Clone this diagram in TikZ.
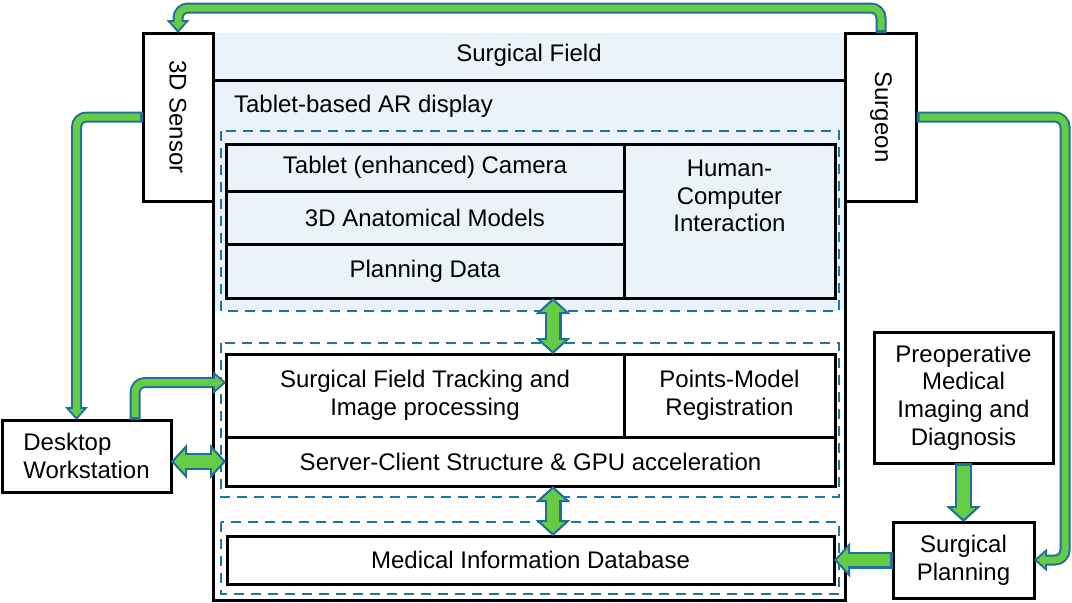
\documentclass[tikz,border=0pt]{standalone}
\usepackage{fontspec}
\setmainfont{Liberation Sans}
\usetikzlibrary{arrows.meta,positioning}
\definecolor{panelblue}{HTML}{EAF2FA}
\definecolor{dashteal}{HTML}{1B76A6}
\definecolor{pipeteal}{HTML}{1F6E9E}
\definecolor{pipegreen}{HTML}{66CC44}
\tikzset{
  boxnode/.style={
    rectangle, draw=black, line width=1.5pt, fill=white,
    align=center, inner sep=2pt, outer sep=0pt
  },
  cellnode/.style={
    rectangle, draw=black, line width=1.5pt,
    align=center, inner sep=2pt, outer sep=0pt
  },
  groupbox/.style={
    draw=dashteal, line width=1.3pt, dash pattern=on 5pt off 3.5pt
  },
  frameline/.style={draw=black, line width=1.5pt},
  tout/.tip={Triangle[length=6.5pt,width=11.5pt,line width=0pt]},
  tin/.tip={Triangle[length=4pt,width=7.1pt,line width=0pt]},
  Tout/.tip={Triangle[length=8pt,width=17.5pt,line width=0pt]},
  Tin/.tip={Triangle[length=5.4pt,width=11.8pt,line width=0pt]},
  thinpipe/.style={draw=pipeteal, line width=5.5pt, rounded corners=5pt, >=tout},
  thincore/.style={draw=pipegreen, line width=3.5pt, rounded corners=5pt, >=tin,
    shorten >=1.5pt, shorten <=1.5pt},
  thickpipe/.style={draw=pipeteal, line width=8.5pt, >=Tout},
  thickcore/.style={draw=pipegreen, line width=6.3pt, >=Tin,
    shorten >=1.5pt, shorten <=1.5pt},
}
% outlined block arrow: #1 thin/thick, #2 tips, #3 path
\newcommand{\fatlink}[3]{%
  \draw[#1pipe,#2] #3;
  \draw[#1core,#2] #3;}

\begin{document}
\begin{tikzpicture}[x=0.5pt, y=-0.5pt,
  every node/.style={font=\fontsize{12}{13.8}\selectfont}]
  \useasboundingbox (0,0) rectangle (1072,602);

  % tablet-based AR display frame
  \fill[panelblue] (213,33) rectangle (845,311);
  \draw[frameline] (213,33) -- (213,600) -- (845,600) -- (845,33);
  \draw[frameline] (213,80) -- (845,80);
  \node (field) at (529,55) {Surgical Field};
  \node[anchor=west] (ardisplay) at (227,106) {Tablet-based AR display};

  \draw[groupbox] (221,131) rectangle (839,311);
  \draw[groupbox] (221,343) rectangle (839,497);
  \draw[groupbox] (221,522) rectangle (839,594);

  % display layer
  \node[cellnode, fill=panelblue, minimum width=199pt, minimum height=23.5pt] (camera) at (425,167.5) {Tablet (enhanced) Camera};
  \node[cellnode, fill=panelblue, minimum width=199pt, minimum height=26.5pt, below=0pt of camera] (anatomy) {3D Anatomical Models};
  \node[cellnode, fill=panelblue, minimum width=199pt, minimum height=27pt, below=0pt of anatomy] (plandata) {Planning Data};
  \node[cellnode, fill=panelblue, minimum width=105.5pt, minimum height=77pt, anchor=north west] (hci) at (camera.north east) {};
  \node[align=center] (hcitext) at ([yshift=-26pt]hci.north) {Human-\\Computer\\Interaction};

  % processing layer
  \node[cellnode, minimum width=199pt, minimum height=41.5pt] (tracking) at (425,395.5) {Surgical Field Tracking and\\Image processing};
  \node[cellnode, minimum width=105.5pt, minimum height=41.5pt, anchor=north west] (registration) at (tracking.north east) {Points-Model\\Registration};
  \node[cellnode, minimum width=304.5pt, minimum height=24.5pt, anchor=north west] (server) at (tracking.south west) {Server-Client Structure \& GPU acceleration};

  % data layer
  \node[cellnode, minimum width=303.5pt, minimum height=24pt] (database) at (530.5,560) {Medical Information Database};

  % outer boxes
  \node[boxnode, minimum width=35pt, minimum height=84pt] (sensor) at (178,117) {\rotatebox{-90}{3D Sensor}};
  \node[boxnode, minimum width=35.5pt, minimum height=84pt] (surgeon) at (881,117) {\rotatebox{-90}{Surgeon}};
  \node[boxnode, minimum width=84.5pt, minimum height=36pt, align=left] (desktop) at (86.5,456) {Desktop\\Workstation};
  \node[boxnode, minimum width=89.5pt, minimum height=65.5pt] (preop) at (963.5,397.5) {Preoperative\\Medical\\Imaging and\\Diagnosis};
  \node[boxnode, minimum width=70.5pt, minimum height=38pt] (planning) at (963.5,560) {Surgical\\Planning};

  % links
  \coordinate (looptop) at (530,8);
  \fatlink{thin}{->}{(surgeon.north) |- (looptop) -| (sensor.north)}
  \fatlink{thin}{->}{(sensor.west) -| ([xshift=-5pt]desktop.north)}
  \fatlink{thin}{->}{([xshift=24.25pt]desktop.north) |- ([yshift=6.5pt]tracking.west)}
  \fatlink{thick}{<->}{(desktop.east |- server.west) -- (server.west)}
  \fatlink{thin}{->}{(surgeon.east) -| ([xshift=15.5pt]planning.east) -- (planning.east)}
  \fatlink{thick}{->}{(preop.south) -- (planning.north)}
  \fatlink{thick}{->}{(planning.west) -- (database.east)}
  \fatlink{thick}{<->}{([xshift=64pt]plandata.south) -- ([xshift=64pt]tracking.north)}
  \fatlink{thick}{<->}{([xshift=11.25pt]server.south) -- ([xshift=11.25pt]database.north)}
\end{tikzpicture}
\end{document}
